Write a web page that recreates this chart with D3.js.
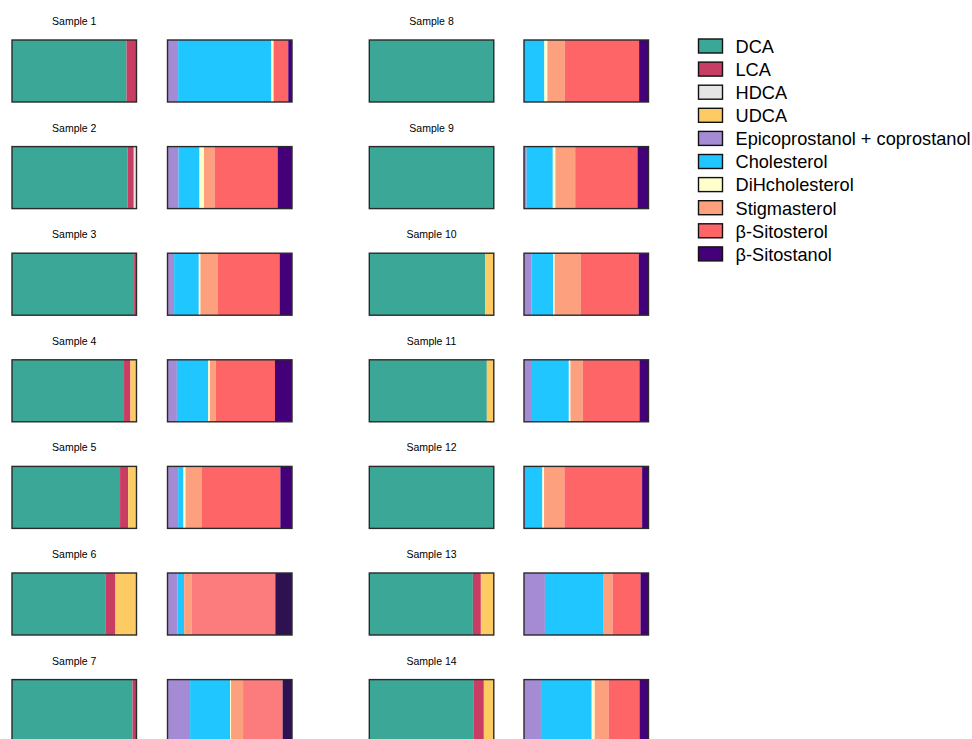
<!DOCTYPE html>
<html>
<head>
<meta charset="utf-8">
<script src="https://cdn.jsdelivr.net/npm/d3@7"></script>
<style>
  html, body { margin: 0; padding: 0; background: #fff; }
  svg { display: block; font-family: "Liberation Sans", Arial, sans-serif; }
</style>
</head>
<body>
<svg id="chart" width="972" height="739"></svg>
<script>
// ---- data ----
const samples = ["Sample 1","Sample 2","Sample 3","Sample 4","Sample 5","Sample 6","Sample 7",
                 "Sample 8","Sample 9","Sample 10","Sample 11","Sample 12","Sample 13","Sample 14"];
const bileKeys = ["DCA","LCA","HDCA","UDCA"];
const sterolKeys = ["Epicoprostanol + coprostanol","Cholesterol","DiHcholesterol","Stigmasterol","β-Sitosterol","β-Sitostanol"];

// bile acids (% of total), per sample: DCA, LCA, HDCA, UDCA
const DCA  = [92.0, 92.8, 98.1, 90.0, 86.8, 75.0, 96.8, 100, 100, 93.0, 94.4, 100, 83.2, 84.0];
const LCA  = [ 8.0,  5.0,  1.9,  5.1,  6.5,  8.1,  3.2,   0,   0,   0,    0,    0,  6.4,  8.0];
const HDCA = [ 0,    2.2,  0,    0,    0,    0,    0,     0,   0,   0,    0,    0,  0,    0  ];
const UDCA = [ 0,    0,    0,    4.9,  6.7, 16.9,  0,     0,   0,   7.0,  5.6,  0, 10.4,  8.0];

// sterols (% of total)
const Epico  = [ 8.5,  8.8,  5.3,  7.5,  8.5,  8.0, 18.1,  0,    2.1,  6.1,  5.6,  1.6, 16.8, 13.6];
const Chol   = [74.4, 16.8, 19.7, 25.1,  4.3,  5.3, 32.0, 16.3, 20.9, 17.1, 30.2, 13.1, 47.2, 40.8];
const DiHch  = [ 1.9,  3.5,  1.3,  1.3,  1.6,  0,    0.8,  2.4,  2.1,  1.3,  1.3,  1.3,  0,    2.4];
const Stig   = [ 0,    8.5, 13.9,  4.8, 12.8,  6.1,  9.6, 13.9, 15.8, 20.9,  9.9, 16.3,  7.2, 11.2];
const Sito   = [11.7, 50.4, 49.3, 47.2, 62.9, 66.7, 31.7, 59.4, 49.7, 46.3, 45.2, 62.0, 22.4, 24.8];
const Stanol = [ 3.0, 11.5,  9.9, 13.6,  9.3, 13.3,  7.5,  7.5,  8.8,  7.8,  7.2,  5.1,  6.4,  7.2];

// ---- styles ----
const colors = {
  "DCA":"#3ba796","LCA":"#c93c63","HDCA":"#e5e5e5","UDCA":"#fdcb64",
  "Epicoprostanol + coprostanol":"#a48bd3","Cholesterol":"#1fc6ff","DiHcholesterol":"#ffffcc",
  "Stigmasterol":"#fca07d","β-Sitosterol":"#fd6567","β-Sitostanol":"#440079"
};
const altColors = {"β-Sitosterol":"#fc7c7e","β-Sitostanol":"#2d1150"};
const altSamples = ["Sample 6","Sample 7"];

const bileRows = samples.map((s,i)=>({sample:s, DCA:DCA[i], LCA:LCA[i], HDCA:HDCA[i], UDCA:UDCA[i]}));
const sterolRows = samples.map((s,i)=>({sample:s,
  "Epicoprostanol + coprostanol":Epico[i], "Cholesterol":Chol[i], "DiHcholesterol":DiHch[i],
  "Stigmasterol":Stig[i], "β-Sitosterol":Sito[i], "β-Sitostanol":Stanol[i]}));

const bileStack = d3.stack().keys(bileKeys).offset(d3.stackOffsetExpand)(bileRows);
const sterolStack = d3.stack().keys(sterolKeys).offset(d3.stackOffsetExpand)(sterolRows);

const svg = d3.select("#chart");
const barW = 124.5, barH = 62;
const rowY = d3.scaleLinear().domain([0,1]).range([40, 146.6]);
const colBileX = [12, 369.3];
const colSterolX = [167.5, 524];

function colOf(i){ return i < 7 ? 0 : 1; }
function rowOf(i){ return i % 7; }

samples.forEach((s,i)=>{
  const c = colOf(i), r = rowOf(i);
  const y0 = rowY(r);
  const xB = d3.scaleLinear().domain([0,1]).range([colBileX[c], colBileX[c]+barW]);
  const xS = d3.scaleLinear().domain([0,1]).range([colSterolX[c], colSterolX[c]+barW]);
  const g = svg.append("g");

  // title
  g.append("text")
    .attr("x", xB(0.5)).attr("y", y0 - 15)
    .attr("text-anchor","middle")
    .attr("font-size", 10.5)
    .attr("fill","#000")
    .text(s);

  // bile bar
  bileStack.forEach(layer=>{
    const d = layer[i];
    const w = xB(d[1]) - xB(d[0]);
    if (w <= 0) return;
    g.append("rect")
      .attr("x", xB(d[0])).attr("y", y0)
      .attr("width", w).attr("height", barH)
      .attr("fill", colors[layer.key]);
  });
  g.append("rect")
    .attr("x", xB(0)).attr("y", y0).attr("width", barW).attr("height", barH)
    .attr("fill","none").attr("stroke","#2a2a2a").attr("stroke-width",1.4);

  // sterol bar
  sterolStack.forEach(layer=>{
    const d = layer[i];
    const w = xS(d[1]) - xS(d[0]);
    if (w <= 0) return;
    const col = (altSamples.includes(s) && altColors[layer.key]) ? altColors[layer.key] : colors[layer.key];
    g.append("rect")
      .attr("x", xS(d[0])).attr("y", y0)
      .attr("width", w).attr("height", barH)
      .attr("fill", col);
  });
  g.append("rect")
    .attr("x", xS(0)).attr("y", y0).attr("width", barW).attr("height", barH)
    .attr("fill","none").attr("stroke","#2a2a2a").attr("stroke-width",1.4);
});

// legend
const legendKeys = bileKeys.concat(sterolKeys);
const legY = d3.scaleLinear().domain([0,1]).range([39, 62.1]);
const leg = svg.append("g");
legendKeys.forEach((k,j)=>{
  leg.append("rect")
    .attr("x", 698.5).attr("y", legY(j))
    .attr("width", 24).attr("height", 14)
    .attr("fill", colors[k]).attr("stroke","#111").attr("stroke-width",1.4);
  leg.append("text")
    .attr("x", 735.5).attr("y", legY(j) + 13.8)
    .attr("font-size", 18.2)
    .attr("fill","#000")
    .text(k);
});
</script>
</body>
</html>
